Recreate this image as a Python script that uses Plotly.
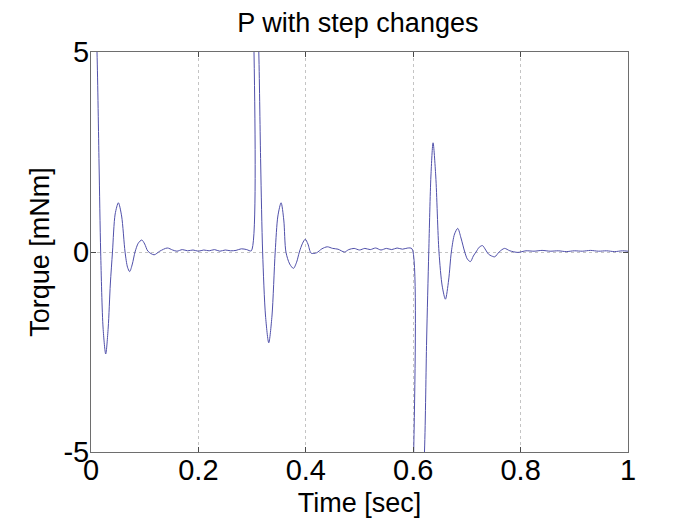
import plotly.graph_objects as go

# torque response (values above +5 / below -5 are clipped by the axis)
time_s = [
    0.000, 0.005, 0.0112, 0.015, 0.018, 0.0225, 0.0274, 0.032, 0.036, 0.040,
    0.045, 0.051, 0.057, 0.0634, 0.068, 0.072, 0.077, 0.082, 0.088, 0.0946,
    0.100, 0.106, 0.1175, 0.128, 0.142, 0.152, 0.160, 0.170, 0.180, 0.190,
    0.200, 0.210, 0.220, 0.230, 0.240, 0.250, 0.260, 0.270, 0.280, 0.290,
    0.2985, 0.2996, 0.306, 0.3125, 0.316, 0.3196, 0.325, 0.331, 0.337, 0.343,
    0.348, 0.354, 0.359, 0.363, 0.370, 0.377, 0.383, 0.388, 0.394, 0.399,
    0.404, 0.410, 0.420, 0.430, 0.440, 0.450, 0.460, 0.472, 0.480, 0.490,
    0.500, 0.510, 0.520, 0.530, 0.540, 0.550, 0.560, 0.570, 0.580, 0.590,
    0.5978, 0.5983, 0.610, 0.621, 0.625, 0.629, 0.633, 0.637, 0.642, 0.648,
    0.654, 0.660, 0.666, 0.671, 0.677, 0.683, 0.689, 0.696, 0.701, 0.7066,
    0.712, 0.717, 0.723, 0.729, 0.735, 0.740, 0.746, 0.752, 0.760, 0.770,
    0.780, 0.795, 0.810, 0.825, 0.840, 0.855, 0.870, 0.885, 0.900, 0.915,
    0.930, 0.945, 0.960, 0.975, 0.990, 1.000,
]
torque_mNm = [
    9.0, 7.6, 5.0, 2.2, 0.0, -1.9, -2.55, -1.9, -0.8, 0.0,
    0.95, 1.23, 0.9, 0.0, -0.38, -0.49, -0.3, 0.0, 0.22, 0.30,
    0.2, 0.02, -0.07, 0.02, 0.10, 0.05, 0.02, 0.06, 0.03, 0.05,
    0.02, 0.05, 0.03, 0.06, 0.02, 0.05, 0.03, 0.04, 0.08, 0.06,
    0.03, 9.0, 8.2, 5.0, 2.2, 0.0, -1.6, -2.27, -1.6, 0.0,
    0.9, 1.23, 0.8, 0.0, -0.3, -0.41, -0.25, 0.0, 0.22, 0.32,
    0.2, -0.03, -0.02, 0.08, 0.13, 0.09, 0.07, 0.0, 0.06, 0.09,
    0.05, 0.09, 0.06, 0.1, 0.05, 0.09, 0.06, 0.1, 0.07, 0.1,
    0.08, -9.0, -8.2, -5.0, -2.2, 0.0, 1.9, 2.73, 1.9, 0.0,
    -0.85, -1.18, -0.7, 0.0, 0.45, 0.59, 0.35, 0.0, -0.18, -0.24,
    -0.1, 0.0, 0.12, 0.16, 0.05, -0.05, -0.1, -0.12, 0.0, 0.09,
    0.03, -0.01, 0.03, 0.02, 0.04, 0.02, 0.03, 0.01, 0.03, 0.02,
    0.04, 0.02, 0.03, 0.01, 0.03, 0.02,
]

x_ticks = [0, 0.2, 0.4, 0.6, 0.8, 1]
x_tick_text = ["0", "0.2", "0.4", "0.6", "0.8", "1"]
y_ticks = [-5, 0, 5]
y_tick_text = ["-5", "0", "5"]

font_family = "Liberation Sans, Arial, sans-serif"

fig = go.Figure()
fig.add_trace(go.Scatter(
    x=time_s, y=torque_mNm, mode="lines",
    line=dict(color="rgb(80,80,170)", width=1, shape="spline", smoothing=0.8),
    cliponaxis=True, showlegend=False,
))

axis_common = dict(
    showline=True, linecolor="#6e6e6e", linewidth=1, mirror="ticks",
    ticks="inside", ticklen=5, tickcolor="#4a4a4a",
    showgrid=True, gridcolor="#c4c4c4", griddash="dot", gridwidth=1,
    zeroline=False, automargin=False,
    tickfont=dict(family=font_family, size=29, color="black"),
)

fig.update_xaxes(
    range=[0, 1], tickvals=x_ticks, ticktext=x_tick_text, ticklabelstandoff=-8,
    title=dict(text="Time [sec]", font=dict(family=font_family, size=27, color="black"), standoff=8),
    **axis_common,
)
fig.update_yaxes(
    range=[-5, 5], tickvals=y_ticks, ticktext=y_tick_text, ticklabelstandoff=-5,
    title=dict(text="Torque [mNm]", font=dict(family=font_family, size=27, color="black"), standoff=5),
    **axis_common,
)

# page body keeps its default 8px margin, so the figure is 8px smaller than the window
fig.update_layout(
    width=686, height=512,
    margin=dict(l=83, r=66, t=44, b=68),
    paper_bgcolor="white", plot_bgcolor="white",
    title=dict(text="P with step changes", x=0.51, xanchor="center", y=0.972, yanchor="middle",
               font=dict(family=font_family, size=27, color="black")),
)

fig.write_html("out.html")
